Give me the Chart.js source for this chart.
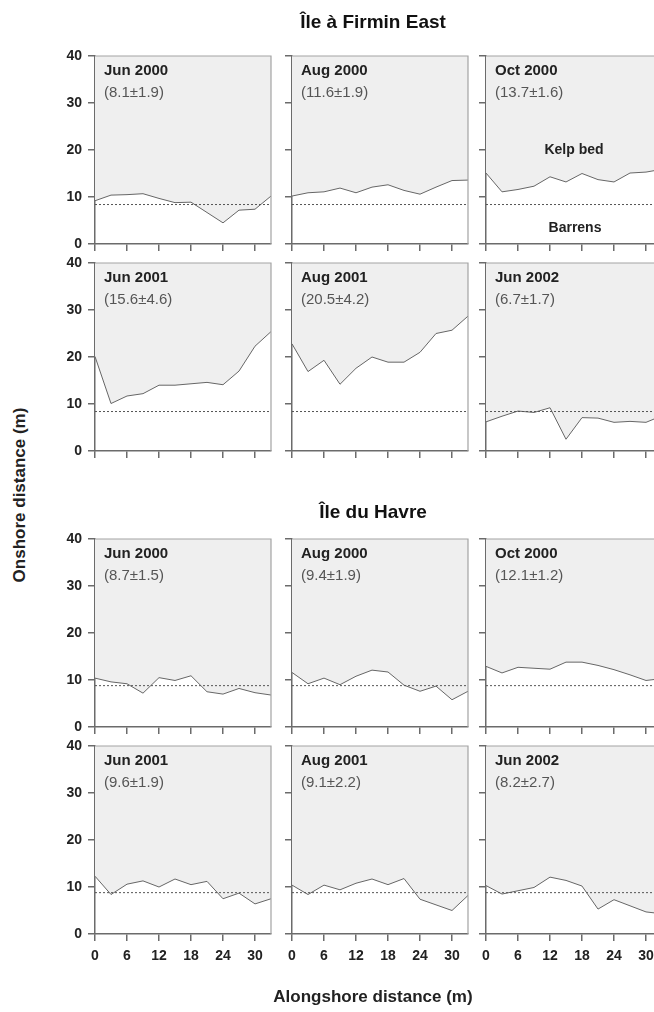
<!DOCTYPE html>
<html>
<head>
<meta charset="utf-8">
<script src="https://cdn.jsdelivr.net/npm/chart.js@4.4.1/dist/chart.umd.min.js"></script>
<style>
  html, body { margin: 0; padding: 0; background: #fff; overflow: hidden; }
  #page { position: relative; width: 654px; height: 1012px; overflow: hidden;
          font-family: "Liberation Sans", Arial, sans-serif; }
  #page canvas { position: absolute; }
  .txt { position: absolute; white-space: nowrap; line-height: 18px; height: 18px; }
  .site { font-weight: bold; font-size: 19px; color: #111; transform: translateX(-50%); line-height: 24px; height: 24px; }
  .survey { font-weight: bold; font-size: 15px; color: #222; }
  .stat { font-size: 15px; color: #555; }
  .zone { font-weight: bold; font-size: 14px; color: #222; transform: translateX(-50%); }
  .axis { font-weight: bold; font-size: 17px; color: #222; }
</style>
</head>
<body>
<div id="page"></div>
<script>
// Transect positions along shore (m)
const alongshore = [0, 3, 6, 9, 12, 15, 18, 21, 24, 27, 30, 33];

// Survey names and mean ± SD of the kelp bed edge
const surveyLabels = ['Jun 2000', 'Aug 2000', 'Oct 2000', 'Jun 2001', 'Aug 2001', 'Jun 2002'];
const firminStats = ['(8.1±1.9)', '(11.6±1.9)', '(13.7±1.6)', '(15.6±4.6)', '(20.5±4.2)', '(6.7±1.7)'];
const havreStats  = ['(8.7±1.5)', '(9.4±1.9)', '(12.1±1.2)', '(9.6±1.9)', '(9.1±2.2)', '(8.2±2.7)'];

// Île à Firmin East: onshore distance of the kelp bed edge (m)
const firminJun2000 = [9.2, 10.4, 10.5, 10.7, 9.7, 8.8, 8.9, 6.7, 4.5, 7.2, 7.4, 10.2];
const firminAug2000 = [10.2, 10.9, 11.1, 11.9, 10.9, 12.1, 12.6, 11.4, 10.6, 12.1, 13.5, 13.6];
const firminOct2000 = [15.1, 11.1, 11.6, 12.3, 14.3, 13.2, 15.0, 13.7, 13.2, 15.1, 15.3, 15.9];
const firminJun2001 = [20.1, 10.1, 11.7, 12.2, 14.0, 14.0, 14.3, 14.6, 14.1, 17.0, 22.3, 25.4];
const firminAug2001 = [22.8, 16.9, 19.3, 14.2, 17.6, 20.0, 18.9, 18.9, 21.0, 25.0, 25.7, 28.7];
const firminJun2002 = [6.2, 7.4, 8.5, 8.2, 9.2, 2.5, 7.1, 7.0, 6.1, 6.3, 6.1, 7.5];

// Île du Havre: onshore distance of the kelp bed edge (m)
const havreJun2000 = [10.4, 9.6, 9.2, 7.2, 10.5, 9.9, 10.9, 7.5, 7.0, 8.2, 7.3, 6.8];
const havreAug2000 = [11.6, 9.2, 10.4, 9.0, 10.8, 12.1, 11.7, 8.9, 7.6, 8.7, 5.8, 7.6];
const havreOct2000 = [12.9, 11.5, 12.7, 12.5, 12.3, 13.8, 13.8, 13.1, 12.2, 11.1, 9.9, 10.3];
const havreJun2001 = [12.3, 8.4, 10.6, 11.3, 10.0, 11.7, 10.5, 11.2, 7.5, 8.7, 6.4, 7.5];
const havreAug2001 = [10.4, 8.4, 10.4, 9.4, 10.8, 11.7, 10.5, 11.8, 7.4, 6.2, 5.0, 8.2];
const havreJun2002 = [10.3, 8.5, 9.2, 9.9, 12.1, 11.4, 10.2, 5.3, 7.3, 6.0, 4.7, 4.3];

// Reference depth line for each site (m)
const firminReference = 8.4;
const havreReference = 8.8;

// Axis ticks
const onshoreTicks = [0, 10, 20, 30, 40];
const alongshoreTicks = [0, 6, 12, 18, 24, 30];

Chart.defaults.font.family = '"Liberation Sans", Arial, sans-serif';

const page = document.getElementById('page');
const colLeft = [95, 292, 486];
const rowTop = [56, 263, 539, 746];
const PLOT_W = 176, PLOT_H = 188, AXIS_W = 40, AXIS_H = 30, PAD_TOP = 16, PAD_RIGHT = 4;

function addText(cls, text, left, top) {
  const d = document.createElement('div');
  d.className = 'txt ' + cls;
  d.textContent = text;
  d.style.left = left + 'px';
  d.style.top = top + 'px';
  page.appendChild(d);
  return d;
}

// Light frame on the top and right edges of each panel
const frame = {
  id: 'frame',
  afterDraw(chart) {
    const a = chart.chartArea, ctx = chart.ctx;
    ctx.save();
    ctx.strokeStyle = '#a3a3a3';
    ctx.lineWidth = 1.2;
    ctx.beginPath();
    ctx.moveTo(a.left, a.top);
    ctx.lineTo(a.right, a.top);
    ctx.lineTo(a.right, a.bottom);
    ctx.stroke();
    ctx.restore();
  }
};

function panel(col, row, series, reference, showY, showX) {
  const cv = document.createElement('canvas');
  cv.width = AXIS_W + PLOT_W + PAD_RIGHT;
  cv.height = PAD_TOP + PLOT_H + AXIS_H;
  cv.style.left = (colLeft[col] - AXIS_W) + 'px';
  cv.style.top = (rowTop[row] - PAD_TOP) + 'px';
  page.appendChild(cv);
  const last = alongshore.length - 1;
  new Chart(cv, {
    type: 'line',
    data: {
      datasets: [
        {
          data: [{ x: alongshore[0], y: reference }, { x: alongshore[last], y: reference }],
          borderColor: '#555', borderWidth: 1, borderDash: [2, 2],
          pointRadius: 0, fill: false
        },
        {
          data: alongshore.map((x, i) => ({ x: x, y: series[i] })),
          borderColor: '#666', borderWidth: 1, tension: 0,
          pointRadius: 0, fill: 'end', backgroundColor: '#efefef'
        }
      ]
    },
    options: {
      responsive: false, animation: false, events: [],
      layout: { padding: { top: PAD_TOP, right: PAD_RIGHT, left: 0, bottom: 0 } },
      plugins: { legend: { display: false }, tooltip: { enabled: false } },
      scales: {
        x: {
          type: 'linear', min: 0, max: 33,
          afterBuildTicks: s => { s.ticks = alongshoreTicks.map(v => ({ value: v })); },
          afterFit: s => { s.height = AXIS_H; },
          grid: { drawOnChartArea: false, drawTicks: true, tickLength: 7, color: '#6b6b6b', lineWidth: 1.5 },
          border: { display: true, color: '#6b6b6b', width: 1.5 },
          ticks: { display: showX, padding: 7, color: '#222', maxRotation: 0, autoSkip: false,
                   font: { size: 14, weight: 'bold' } }
        },
        y: {
          min: 0, max: 40,
          afterBuildTicks: s => { s.ticks = onshoreTicks.map(v => ({ value: v })); },
          afterFit: s => { s.width = AXIS_W; },
          grid: { drawOnChartArea: false, drawTicks: true, tickLength: 7, color: '#6b6b6b', lineWidth: 1.5 },
          border: { display: true, color: '#6b6b6b', width: 1.5 },
          ticks: { display: showY, padding: 6, color: '#222', autoSkip: false,
                   font: { size: 14, weight: 'bold' } }
        }
      }
    },
    plugins: [frame]
  });
}

const sites = [
  { series: [firminJun2000, firminAug2000, firminOct2000, firminJun2001, firminAug2001, firminJun2002],
    stats: firminStats, reference: firminReference, firstRow: 0 },
  { series: [havreJun2000, havreAug2000, havreOct2000, havreJun2001, havreAug2001, havreJun2002],
    stats: havreStats, reference: havreReference, firstRow: 2 }
];

sites.forEach(site => {
  site.series.forEach((s, i) => {
    const col = i % 3, row = site.firstRow + Math.floor(i / 3);
    panel(col, row, s, site.reference, col === 0, row === 3);
    addText('survey', surveyLabels[i], colLeft[col] + 9, rowTop[row] + 14 - 9);
    addText('stat', site.stats[i], colLeft[col] + 9, rowTop[row] + 36 - 9);
  });
});

// Site titles
addText('site', 'Île à Firmin East', 373, 22 - 12);
addText('site', 'Île du Havre', 373, 512 - 12);

// Zone labels
addText('zone', 'Kelp bed', 574, 149 - 9);
addText('zone', 'Barrens', 575, 227 - 9);

// Axis titles
const xt = addText('axis', 'Alongshore distance (m)', 373, 997 - 9);
xt.style.transform = 'translateX(-50%)';
const yt = addText('axis', 'Onshore distance (m)', 20, 495 - 9);
yt.style.transform = 'translate(-50%, 0) rotate(-90deg)';
yt.style.transformOrigin = '50% 50%';
</script>
</body>
</html>
